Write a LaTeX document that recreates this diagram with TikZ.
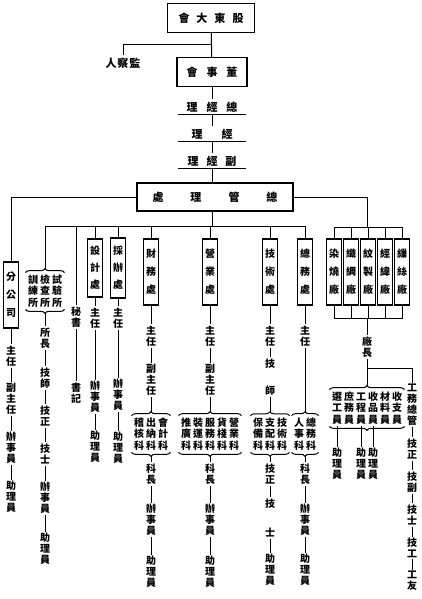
\documentclass[tikz,border=0pt]{standalone}
\usepackage{fontspec}
\setmainfont{Noto Sans CJK TC}
\newfontfamily\kefont[LetterSpace=20]{Noto Sans CJK TC}
\usetikzlibrary{decorations.pathreplacing}
\tikzset{chu/.style={draw,line width=1.2pt,align=center,inner sep=1pt,minimum width=15pt,minimum height=66pt,font=\bfseries\fontsize{10}{18}\selectfont}}
\tikzset{zhi/.style={align=center,inner sep=1pt,font=\bfseries\fontsize{10}{11}\selectfont}}
\tikzset{ke/.style={align=center,inner xsep=2pt,inner ysep=1.5pt,font=\kefont\bfseries\fontsize{10}{11.5}\selectfont}}
\tikzset{ding/.style={inner sep=2pt,font=\bfseries\fontsize{11}{12}\selectfont}}
\tikzset{kuohao/.style={decorate,decoration={brace,amplitude=4pt}}}

\begin{document}
\begin{tikzpicture}[x=1pt,y=-1pt,line width=1pt]
\useasboundingbox (0,0) rectangle (421,599);
% \draw[help lines] (0,0) grid (421,599);
\node (gd) [ding,draw,line width=1.2pt,minimum width=87pt,minimum height=29pt] at (211,18) {會\hspace{7pt}大\hspace{7pt}東\hspace{7pt}股};
\node (jcr) [ding] at (123,63) {人\hspace{1pt}察\hspace{1pt}監};
\node (dsh) [ding,draw,line width=1.2pt,minimum width=70pt,minimum height=29pt] at (212,72) {會\hspace{9pt}事\hspace{9pt}董};
\node (zjl) [ding,minimum width=67pt] at (212,107) {理\hspace{9pt}經\hspace{9pt}總};
\node (jl) [ding,minimum width=67pt] at (212,134) {理\hspace{19pt}經};
\node (fjl) [ding,minimum width=67pt] at (212,161) {理\hspace{8pt}經\hspace{8pt}副};
\node (glc) [ding,draw,line width=1.2pt,minimum width=156pt,minimum height=28pt] at (215,197) {處\hspace{27pt}理\hspace{27pt}管\hspace{27pt}總};
\coordinate (jb) at (212,45);
\coordinate (zb) at (212,226);
\coordinate (yb) at (367,227);
\coordinate (xb) at (367,318);
\coordinate (cb) at (367,368);
%
\node (fgs) [chu] at (11,295) {分\\公\\司};
\node (fgs1) [zhi] at (11,356) {主\\任};
\node (fgs2) [zhi] at (11,399) {副\\主\\任};
\node (fgs3) [zhi] at (11,448) {辦\\事\\員};
\node (fgs4) [zhi] at (11,497) {助\\理\\員};
%
\node (syg) [ke] at (45,291) {訓檢試\\練查驗\\所所所};
\node (sy1) [zhi] at (45,338) {所\\長};
\node (sy2) [zhi] at (45,378) {技\\師};
\node (sy3) [zhi] at (45,416) {技\\正};
\node (sy4) [zhi] at (45,454) {技\\士};
\node (sy5) [zhi] at (45,498) {辦\\事\\員};
\node (sy6) [zhi] at (45,549) {助\\理\\員};
%
\node (ms) [zhi] at (76,317) {秘\\書};
\node (ms1) [zhi] at (76,393) {書\\記};
%
\node (sjc) [chu,minimum height=58pt,font=\bfseries\fontsize{10}{17}\selectfont] at (95,268) {設\\計\\處};
\node (sj1) [zhi] at (95,318) {主\\任};
\node (sj2) [zhi] at (95,397) {辦\\事\\員};
\node (sj3) [zhi] at (95,447) {助\\理\\員};
%
\node (cbc) [chu,minimum height=60pt,font=\bfseries\fontsize{10}{17}\selectfont] at (118,268) {採\\辦\\處};
\node (cb1) [zhi] at (118,318) {主\\任};
\node (cb2) [zhi] at (118,395) {辦\\事\\員};
\node (cb3) [zhi] at (118,448) {助\\理\\員};
%
\node (cwc) [chu] at (151,272) {財\\務\\處};
\node (cw1) [zhi] at (151,336) {主\\任};
\node (cw2) [zhi] at (151,380) {副\\主\\任};
\node (cwk) [ke] at (151,434) {稽出會\\核納計\\科科科};
\node (cw3) [zhi] at (151,474) {科\\長};
\node (cw4) [zhi] at (151,520) {辦\\事\\員};
\node (cw5) [zhi] at (151,572) {助\\理\\員};
%
\node (yyc) [chu] at (210,272) {營\\業\\處};
\node (yy1) [zhi] at (210,336) {主\\任};
\node (yy2) [zhi] at (210,380) {副\\主\\任};
\node (yyk) [ke] at (210,434) {推裝服貨營\\廣運務棧業\\科科科科科};
\node (yy3) [zhi] at (210,474) {科\\長};
\node (yy4) [zhi] at (210,520) {辦\\事\\員};
\node (yy5) [zhi] at (210,572) {助\\理\\員};
%
\node (jsc) [chu] at (270,272) {技\\術\\處};
\node (js1) [zhi] at (270,336) {主\\任};
\node (js2) [zhi] at (270,377) {技\\[16pt]師};
\node (jsk) [ke] at (270,434) {保支技\\備配術\\科科科};
\node (js3) [zhi] at (270,474) {技\\正};
\node (js4) [zhi] at (270,518) {技\\[18pt]士};
\node (js5) [zhi] at (270,570) {助\\理\\員};
%
\node (zwc) [chu] at (305,272) {總\\務\\處};
\node (zw1) [zhi] at (305,336) {主\\任};
\node (zwk) [ke] at (305,434) {人總\\事務\\科科};
\node (zw2) [zhi] at (305,474) {科\\長};
\node (zw3) [zhi] at (305,520) {辦\\事\\員};
\node (zw4) [zhi] at (305,570) {助\\理\\員};
%
\node (ch1) [chu] at (334,272) {染\\燒\\廠};
\node (ch2) [chu] at (351,272) {織\\綢\\廠};
\node (ch3) [chu] at (368,272) {紋\\製\\廠};
\node (ch4) [chu] at (385,272) {經\\緯\\廠};
\node (ch5) [chu] at (402,272) {繅\\絲\\廠};
\node (cz) [zhi] at (367,347) {廠\\長};
\node (czk) [ke] at (367,408) {選庶工收材收\\工務程品料支\\員員員員員員};
\node (za1) [zhi] at (337,464) {助\\理\\員};
\node (za2) [zhi] at (361,464) {助\\理\\員};
\node (za3) [zhi] at (373,464) {助\\理\\員};
\node (gw1) [zhi] at (412,405) {工\\務\\總\\管};
\node (gw2) [zhi] at (412,449) {技\\正};
\node (gw3) [zhi] at (412,482) {技\\副};
\node (gw4) [zhi] at (412,515) {技\\士};
\node (gw5) [zhi] at (412,548) {技\\工};
\node (gw6) [zhi] at (412,581) {工\\友};
%
\foreach \g in {syg,cwk,yyk,jsk,zwk,czk} {
  \draw[kuohao] (\g.north west) -- (\g.north east);
  \draw[kuohao] (\g.south east) -- (\g.south west);
}
\foreach \n in {zjl,jl,fjl} \draw (\n.south west) -- (\n.south east);
%
\draw (gd) -- (dsh);
\draw (jb) -| (jcr);
\draw (dsh) -- (zjl);
\draw (zjl) -- (jl);
\draw (jl) -- (fjl);
\draw (fjl.south) -- (fjl.south |- glc.north);
\draw (zb |- glc.south) -- (zb);
\draw (glc.west) -| (fgs);
\draw (glc.east) -| (yb);
\draw ([yshift=4pt]syg.north) |- (zwc.north |- zb) -- (zwc);
\foreach \n in {ms,sjc,cbc,cwc,yyc,jsc} \draw (\n) -- (\n |- zb);
\draw (ch1) |- (ch5 |- yb) -- (ch5);
\foreach \n in {ch2,ch3,ch4} \draw (\n) -- (\n |- yb);
\draw (ch1) |- (ch5 |- xb) -- (ch5);
\foreach \n in {ch2,ch3,ch4} \draw (\n) -- (\n |- xb);
\draw (xb) -- (cz);
\draw (cz) -- ([yshift=4pt]czk.north);
\draw (cb) -| (gw1);
\foreach \n in {za1,za2,za3} \draw (\n) -- (\n |- czk.south);
%
\foreach \a/\b in {fgs/fgs1,fgs1/fgs2,fgs2/fgs3,fgs3/fgs4,sy1/sy2,sy2/sy3,sy3/sy4,sy4/sy5,sy5/sy6,ms/ms1,sjc/sj1,sj1/sj2,sj2/sj3,cbc/cb1,cb1/cb2,cb2/cb3,cwc/cw1,cw1/cw2,cw3/cw4,cw4/cw5,yyc/yy1,yy1/yy2,yy3/yy4,yy4/yy5,jsc/js1,js1/js2,js3/js4,js4/js5,zwc/zw1,zw2/zw3,zw3/zw4,gw1/gw2,gw2/gw3,gw3/gw4,gw4/gw5,gw5/gw6}
  \draw (\a) -- (\b);
\foreach \a/\g/\b in {cw2/cwk/cw3,yy2/yyk/yy3,js2/jsk/js3,zw1/zwk/zw2} {
  \draw (\a) -- ([yshift=4pt]\g.north);
  \draw ([yshift=-4pt]\g.south) -- (\b);
}
\draw ([yshift=-4pt]syg.south) -- (sy1);
\end{tikzpicture}
\end{document}
